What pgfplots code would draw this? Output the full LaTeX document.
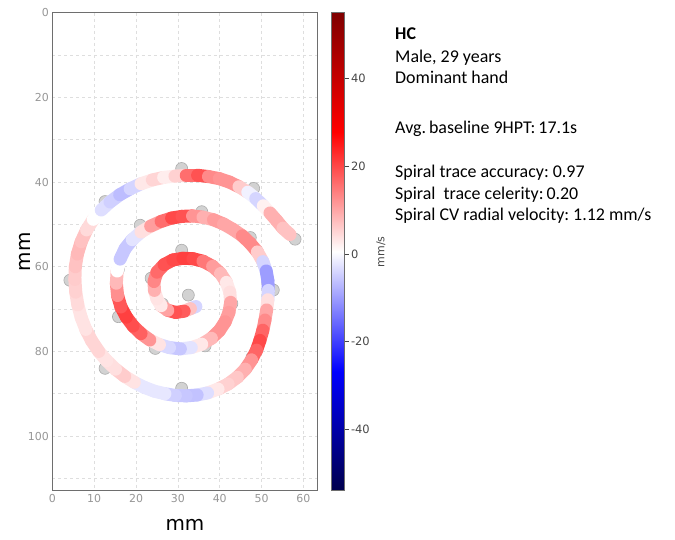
\documentclass[border=0pt]{standalone}
\usepackage{pgfplots}
\pgfplotsset{compat=1.18}
\usepackage{fontspec}
\setmainfont{Carlito}
\newfontfamily\dejavu{DejaVu Sans}
\pgfkeys{/pgf/number format/assume math mode=true}
\definecolor{axgray}{RGB}{110,110,110}
\definecolor{tickgray}{RGB}{150,150,150}
\definecolor{cbgray}{RGB}{70,70,70}
\definecolor{gridgray}{RGB}{222,222,222}

% pen trace: x, y (mm), radial velocity (mm/s)
\pgfplotstableread{
x y v
34.3 69.4 -8
33.0 69.9 0
31.5 70.5 14
29.5 70.8 22
27.6 70.3 16
26.0 69.2 5
25.0 67.6 1
24.4 65.6 6
24.3 63.5 12
25.0 61.3 15
26.7 59.5 18
28.8 58.4 20
31.2 58.0 20
33.6 58.1 22
36.0 58.7 18
38.3 59.9 12
40.2 61.6 10
41.6 63.7 6
42.4 66.0 0
42.6 68.4 8
42.2 70.8 12
41.3 73.0 10
39.9 75.1 14
38.0 76.9 10
35.7 78.3 6
33.2 79.1 0
30.6 79.4 -5
28.0 79.1 -6
25.6 78.4 -1
23.3 77.3 8
21.2 75.8 16
19.3 74.0 19
17.7 71.9 20
16.4 69.5 22
15.6 66.8 15
15.3 63.9 10
15.5 61.0 6
16.2 58.2 -5
17.4 55.7 -6
19.1 53.6 -5
21.2 51.8 0
23.5 50.4 8
26.0 49.3 14
28.5 48.5 18
31.0 48.1 22
33.5 48.0 16
36.0 48.3 8
38.5 48.9 10
40.9 49.9 12
43.2 51.2 8
45.4 52.7 12
47.3 54.5 14
49.0 56.5 12
50.3 58.8 0
51.1 61.0 -8
51.5 63.3 -12
51.6 65.6 -8
51.5 67.8 0
51.2 70.2 8
50.8 72.6 12
50.3 75.0 14
49.6 77.4 20
48.8 79.7 20
47.6 82.0 14
46.1 84.2 10
44.2 86.1 8
42.0 87.7 5
39.6 88.9 6
37.1 89.8 0
34.6 90.3 -6
32.0 90.5 -6
29.4 90.4 -5
26.9 90.0 -4
24.4 89.4 0
22.0 88.5 -4
19.6 87.3 0
17.3 85.9 7
15.1 84.2 5
13.0 82.2 3
11.1 80.0 4
9.4 77.5 6
8.0 74.8 4
6.9 72.0 3
6.1 69.0 4
5.6 66.0 5
5.4 63.0 6
5.5 60.0 6
6.0 57.0 8
6.9 54.1 8
8.2 51.3 6
9.8 48.8 3
11.7 46.6 -2
13.8 44.7 -4
16.1 43.0 -5
18.6 41.6 -8
21.2 40.4 0
23.9 39.5 6
26.6 38.9 4
29.3 38.6 1
32.0 38.4 10
34.7 38.4 22
37.3 38.7 16
39.9 39.2 10
42.3 40.0 14
44.6 41.1 10
46.7 42.4 2
48.6 43.9 -4
50.4 45.6 -4
52.0 47.3 8
53.6 49.1 10
55.1 50.9 8
56.8 52.4 6
}\tracedata

\begin{document}
\begin{tikzpicture}
\useasboundingbox (0,0) rectangle (675bp,540bp);
\begin{axis}[
    at={(52.3bp,49.3bp)}, anchor=south west,
    scale only axis,
    width=265.4bp, height=478bp,
    xmin=0, xmax=63.4,
    ymin=0, ymax=112.9,
    y dir=reverse,
    xtick={0,10,...,60},
    ytick={0,20,...,100},
    minor ytick={10,30,...,110},
    grid=both,
    major grid style={dashed, gridgray, line width=0.6bp},
    minor grid style={dashed, gridgray, line width=0.6bp},
    major tick length=0pt, minor tick length=0pt,
    axis line style={axgray, line width=0.9bp},
    clip marker paths=true,
    /pgf/number format/assume math mode=true,
    tick label style={font=\dejavu\fontsize{11}{13}\selectfont, text=tickgray},
    xlabel={mm}, ylabel={mm},
    label style={font=\dejavu\fontsize{20}{24}\selectfont},
    xlabel style={at={(axis description cs:0.5,-0.072)}, anchor=center},
    ylabel style={at={(axis description cs:-0.103,0.5)}, anchor=center},
    colormap={seismic}{rgb=(0,0,0.3) rgb=(0,0,1) rgb=(1,1,1) rgb=(1,0,0) rgb=(0.5,0,0)},
    point meta min=-54, point meta max=55,
    colorbar,
    colorbar style={
        at={(parent axis.north east)}, anchor=north west,
        xshift=5.3bp,
        scale only axis,
        width=13bp,
        ytick={-40,-20,0,20,40},
        ytick pos=right, yticklabel pos=right,
        axis line style={axgray, line width=0.9bp},
        major tick length=4bp,
        ytick style={cbgray, line width=0.6bp},
        tick align=outside,
        /pgf/number format/assume math mode=true,
        yticklabel style={font=\dejavu\fontsize{11.5}{13}\selectfont, text=cbgray,
            xshift=-1bp},
        ylabel={mm/s},
        ylabel style={font=\dejavu\fontsize{11}{13}\selectfont, text=cbgray,
            at={(axis description cs:3.8,0.5)}, anchor=center},
    },
]
% template points
\addplot[only marks, mark=*, mark size=6bp,
    mark options={fill=gray!35, draw=gray!65, line width=0.6bp}] coordinates {
    (30.9,36.8) (48.1,41.5) (58.0,53.5) (12.6,44.6) (21.0,50.2) (35.7,47.0)
    (47.3,53.1) (30.9,56.1) (15.8,60.6) (4.2,63.2) (23.6,62.7) (32.5,66.7)
    (26.3,68.8) (42.9,68.7) (52.8,65.5) (15.8,71.8) (24.6,79.3) (36.5,78.7)
    (47.7,81.4) (12.6,84.0) (30.9,88.7)
};
% drawn spiral coloured by velocity
\addplot[mesh, point meta=explicit, line width=13bp, line cap=round]
    table[x=x, y=y, meta=v] {\tracedata};
\end{axis}

\begin{scope}[every node/.style={anchor=base west, inner sep=0pt,
        font=\fontsize{18}{21}\selectfont\frenchspacing}]
\node at (395bp,500bp) {\bfseries HC};
\node at (395bp,477.5bp) {Male, 29 years};
\node at (395bp,456bp) {Dominant hand};
\node at (395bp,406bp) {Avg.\,baseline 9HPT:\,17.1s};
\node at (395bp,362bp) {Spiral trace accuracy: 0.97};
\node at (395bp,340.5bp) {Spiral\ \ trace celerity:\,0.20};
\node at (395bp,319bp) {Spiral CV radial velocity: 1.12 mm/s};
\end{scope}
\end{tikzpicture}
\end{document}
